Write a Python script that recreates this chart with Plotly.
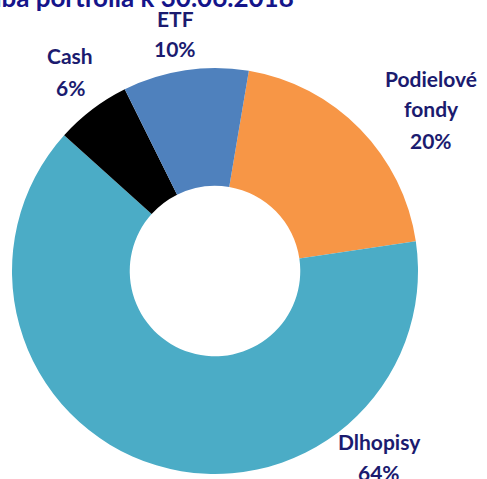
import plotly.graph_objects as go

labels = ["Podielové fondy", "Dlhopisy", "Cash", "ETF"]
label_lines = [["Podielové", "fondy", "20%"], ["Dlhopisy", "64%"], ["Cash", "6%"], ["ETF", "10%"]]
values = [20, 64, 6, 10]
colors = ["#F79646", "#4BACC6", "#000000", "#4F81BD"]
title = "Skladba portfólia k 30.06.2018"

W, H = 487, 479
navy = "#1B1B6F"
title_color = "#15158A"
font = "Lato"

fig = go.Figure(go.Pie(
    labels=labels, values=values, sort=False, direction="clockwise",
    rotation=9.6, hole=0.42, textinfo="none", hoverinfo="label+percent",
    marker=dict(colors=colors, line=dict(width=0)),
    domain=dict(x=[12 / W, 418 / W], y=[1 - 474 / H, 1 - 68 / H]),
    showlegend=False,
))

# label anchor positions (centre x, first-line centre y) in pixels
pos = [(431, 78), (379, 441), (70, 56), (175, 18)]
line_gap = 31
for lines, (px, py) in zip(label_lines, pos):
    for i, ln in enumerate(lines):
        fig.add_annotation(text="<b>" + ln + "</b>", x=px / W, y=1 - (py + i * line_gap) / H,
                           xref="paper", yref="paper", showarrow=False,
                           xanchor="center", yanchor="middle",
                           font=dict(family=font, size=21, color=navy))

fig.add_annotation(text="<b>" + title + "</b>", x=296 / W, y=1 - 15 / H, xref="paper", yref="paper",
                   showarrow=False, xanchor="right", yanchor="bottom",
                   font=dict(family=font, size=26, color=title_color))

fig.update_layout(width=W, height=H, margin=dict(l=0, r=0, t=0, b=0),
                  paper_bgcolor="white", plot_bgcolor="white",
                  font=dict(family=font, color=navy))

fig.write_html("out.html", config={"displayModeBar": False},
               post_script="document.body.style.margin='0';")
